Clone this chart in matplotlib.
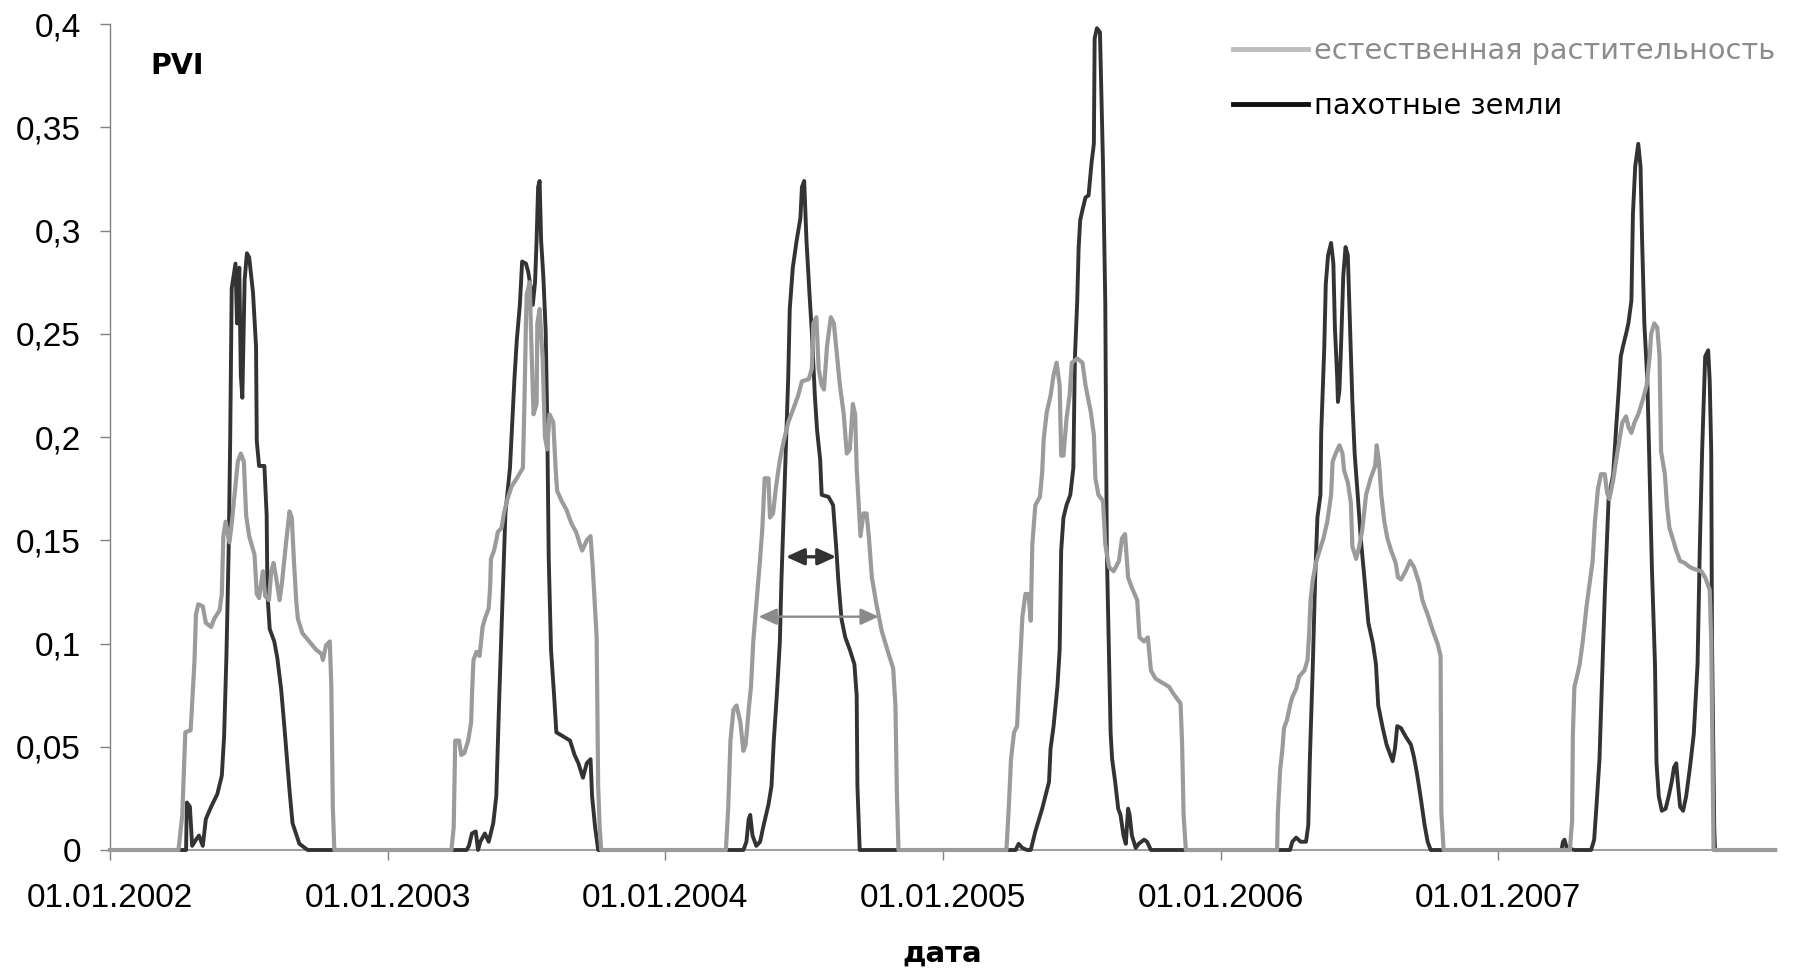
#!/usr/bin/env python3
"""
PVI seasonal curves 2002-2007: natural vegetation vs. arable land.
Values are read off the original figure (day of year, index value).
"""

from datetime import date

import matplotlib
matplotlib.use("Agg")
import matplotlib.pyplot as plt
import matplotlib.dates as mdates
from matplotlib.lines import Line2D

# ── natural vegetation (grey) ────────────────────────────────────────────
nat_2002_day = [90, 95, 99, 106, 111, 113, 116, 122, 126, 133, 137, 144, 147, 149, 152,
                157, 160, 165, 168, 172, 176, 179, 183, 190, 193, 196, 201, 204, 209, 212,
                215, 218, 223, 226, 231, 236, 239, 242, 245, 247, 253, 262, 271, 278, 280,
                284, 289, 291, 293, 295]
nat_2002_val = [0, 0.017, 0.057, 0.058, 0.091, 0.114, 0.119, 0.118, 0.110, 0.108, 0.112,
                0.116, 0.124, 0.152, 0.159, 0.149, 0.158, 0.177, 0.188, 0.192, 0.188, 0.162,
                0.152, 0.143, 0.124, 0.122, 0.135, 0.123, 0.121, 0.135, 0.139, 0.133, 0.121,
                0.129, 0.147, 0.164, 0.161, 0.139, 0.120, 0.112, 0.105, 0.101, 0.097, 0.095,
                0.092, 0.099, 0.101, 0.080, 0.021, 0]

nat_2003_day = [84, 87, 89, 94, 97, 101, 106, 110, 111, 113, 117, 121, 125, 128, 133, 135,
                136, 140, 143, 145, 150, 153, 157, 163, 170, 178, 180, 182, 183, 187, 189,
                192, 196, 197, 200, 204, 207, 210, 213, 218, 221, 223, 229, 235, 242, 248,
                254, 256, 262, 267, 270, 275, 277, 279, 281]
nat_2003_val = [0, 0.011, 0.053, 0.053, 0.046, 0.047, 0.053, 0.062, 0.075, 0.092, 0.096,
                0.094, 0.108, 0.112, 0.117, 0.128, 0.141, 0.145, 0.150, 0.154, 0.156, 0.163,
                0.169, 0.176, 0.180, 0.185, 0.216, 0.255, 0.269, 0.275, 0.247, 0.211, 0.216,
                0.255, 0.262, 0.238, 0.200, 0.194, 0.211, 0.207, 0.185, 0.174, 0.169, 0.165,
                0.158, 0.154, 0.147, 0.145, 0.150, 0.152, 0.136, 0.103, 0.031, 0.011, 0]

nat_2004_day = [80, 83, 86, 90, 94, 99, 103, 106, 110, 113, 116, 120, 125, 128, 131, 136,
                138, 142, 146, 151, 156, 162, 169, 175, 180, 189, 193, 195, 199, 202, 206,
                209, 213, 218, 222, 226, 230, 235, 239, 243, 247, 250, 252, 257, 261, 265,
                268, 272, 278, 285, 294, 300, 303, 305, 307]
nat_2004_val = [0, 0.020, 0.053, 0.068, 0.070, 0.062, 0.048, 0.051, 0.068, 0.079, 0.101,
                0.119, 0.141, 0.156, 0.180, 0.180, 0.161, 0.163, 0.176, 0.189, 0.198, 0.207,
                0.214, 0.220, 0.227, 0.228, 0.233, 0.255, 0.258, 0.233, 0.225, 0.223, 0.244,
                0.258, 0.255, 0.240, 0.225, 0.211, 0.192, 0.194, 0.216, 0.211, 0.185, 0.152,
                0.163, 0.163, 0.152, 0.132, 0.119, 0.106, 0.095, 0.088, 0.070, 0.026, 0]

nat_2005_day = [83, 86, 89, 93, 97, 100, 104, 108, 112, 115, 117, 121, 127, 130, 132, 136,
                141, 145, 149, 153, 155, 158, 162, 166, 169, 176, 183, 187, 194, 198, 200,
                204, 210, 213, 218, 224, 231, 235, 239, 243, 248, 255, 258, 264, 269, 273,
                279, 288, 297, 302, 308, 312, 314, 316, 319]
nat_2005_val = [0, 0.020, 0.044, 0.057, 0.060, 0.084, 0.113, 0.124, 0.124, 0.111, 0.148,
                0.167, 0.171, 0.183, 0.199, 0.212, 0.220, 0.230, 0.236, 0.225, 0.191, 0.191,
                0.209, 0.220, 0.236, 0.238, 0.236, 0.225, 0.212, 0.201, 0.180, 0.172, 0.169,
                0.148, 0.137, 0.135, 0.140, 0.151, 0.153, 0.132, 0.127, 0.121, 0.103, 0.101,
                0.103, 0.087, 0.083, 0.081, 0.079, 0.076, 0.073, 0.071, 0.052, 0.017, 0]

nat_2006_day = [74, 75, 78, 81, 83, 87, 91, 94, 99, 103, 110, 114, 116, 118, 121, 125, 129,
                135, 140, 145, 147, 151, 156, 160, 162, 167, 171, 173, 178, 182, 186, 191,
                197, 203, 205, 208, 211, 215, 219, 224, 230, 233, 237, 243, 249, 254, 261,
                265, 272, 279, 285, 289, 290, 293]
nat_2006_val = [0, 0.018, 0.039, 0.049, 0.059, 0.063, 0.070, 0.074, 0.078, 0.084, 0.087,
                0.092, 0.104, 0.121, 0.131, 0.139, 0.144, 0.151, 0.159, 0.172, 0.188, 0.192,
                0.196, 0.192, 0.184, 0.178, 0.168, 0.147, 0.141, 0.147, 0.155, 0.172, 0.180,
                0.186, 0.196, 0.188, 0.172, 0.159, 0.151, 0.145, 0.139, 0.132, 0.131, 0.135,
                0.140, 0.137, 0.129, 0.121, 0.114, 0.106, 0.100, 0.094, 0.018, 0]

nat_2007_day = [94, 97, 98, 100, 104, 107, 111, 116, 120, 124, 127, 131, 135, 140, 143, 146,
                151, 155, 159, 163, 168, 171, 175, 179, 184, 190, 195, 199, 201, 205, 209,
                212, 214, 219, 222, 225, 230, 234, 239, 245, 252, 258, 267, 272, 278, 280,
                282, 283]
nat_2007_val = [0, 0.014, 0.056, 0.079, 0.085, 0.090, 0.101, 0.118, 0.129, 0.140, 0.159,
                0.175, 0.182, 0.182, 0.173, 0.170, 0.179, 0.189, 0.198, 0.207, 0.210, 0.205,
                0.202, 0.207, 0.211, 0.218, 0.225, 0.239, 0.250, 0.255, 0.253, 0.239, 0.193,
                0.182, 0.166, 0.156, 0.150, 0.145, 0.140, 0.139, 0.137, 0.136, 0.135, 0.132,
                0.126, 0.101, 0.033, 0]

# ── arable land (dark) ───────────────────────────────────────────────────
ara_2002_day = [100, 101, 105, 108, 113, 117, 122, 126, 133, 141, 147, 150, 153, 156, 158,
                160, 165, 167, 170, 172, 174, 177, 180, 183, 188, 192, 193, 196, 203, 206,
                207, 210, 216, 220, 225, 229, 236, 240, 249, 260]
ara_2002_val = [0, 0.023, 0.021, 0.002, 0.005, 0.007, 0.002, 0.015, 0.021, 0.027, 0.036,
                0.055, 0.093, 0.145, 0.198, 0.272, 0.284, 0.255, 0.282, 0.230, 0.219, 0.276,
                0.289, 0.287, 0.270, 0.244, 0.198, 0.186, 0.186, 0.162, 0.124, 0.107, 0.101,
                0.093, 0.078, 0.061, 0.029, 0.013, 0.003, 0]

ara_2003_day = [104, 107, 111, 116, 119, 122, 128, 133, 139, 143, 147, 151, 155, 161, 167,
                170, 174, 177, 182, 185, 188, 191, 194, 196, 198, 200, 202, 205, 208, 210,
                212, 215, 219, 222, 231, 240, 246, 251, 257, 262, 267, 269, 273, 277]
ara_2003_val = [0, 0.002, 0.008, 0.009, 0, 0.004, 0.008, 0.004, 0.013, 0.026, 0.075, 0.119,
                0.163, 0.185, 0.229, 0.247, 0.264, 0.285, 0.284, 0.280, 0.273, 0.264, 0.275,
                0.295, 0.321, 0.324, 0.295, 0.277, 0.251, 0.207, 0.141, 0.097, 0.075, 0.057,
                0.055, 0.053, 0.046, 0.042, 0.035, 0.042, 0.044, 0.026, 0.011, 0]

ara_2004_day = [103, 107, 110, 112, 115, 120, 125, 129, 136, 140, 143, 147, 151, 153, 156,
                159, 162, 164, 168, 173, 178, 180, 183, 186, 190, 193, 195, 197, 200, 204,
                206, 215, 221, 225, 228, 232, 237, 243, 249, 252, 253, 256]
ara_2004_val = [0, 0.004, 0.015, 0.017, 0.007, 0.002, 0.004, 0.011, 0.022, 0.031, 0.053,
                0.075, 0.101, 0.130, 0.163, 0.196, 0.229, 0.262, 0.282, 0.295, 0.306, 0.321,
                0.324, 0.295, 0.269, 0.251, 0.236, 0.220, 0.203, 0.189, 0.172, 0.171, 0.167,
                0.147, 0.130, 0.112, 0.103, 0.097, 0.090, 0.075, 0.031, 0]

ara_2005_day = [95, 99, 104, 110, 115, 121, 130, 139, 141, 145, 150, 153, 155, 158, 162,
                167, 171, 173, 176, 178, 180, 183, 187, 191, 195, 198, 199, 202, 206, 208,
                210, 213, 215, 218, 220, 222, 226, 230, 233, 237, 240, 243, 245, 248, 253,
                257, 264, 268, 273]
ara_2005_val = [0, 0.003, 0.001, 0, 0, 0.009, 0.020, 0.033, 0.049, 0.060, 0.079, 0.097,
                0.145, 0.161, 0.167, 0.172, 0.185, 0.238, 0.265, 0.292, 0.305, 0.310, 0.316,
                0.317, 0.333, 0.342, 0.393, 0.398, 0.396, 0.364, 0.332, 0.265, 0.145, 0.092,
                0.057, 0.044, 0.033, 0.020, 0.017, 0.007, 0.003, 0.020, 0.017, 0.007, 0.001,
                0.003, 0.005, 0.004, 0]

ara_2006_day = [81, 91, 94, 99, 105, 112, 115, 117, 121, 124, 127, 131, 132, 134, 136, 138,
                141, 145, 148, 150, 153, 154, 156, 158, 161, 164, 167, 169, 171, 173, 176,
                180, 184, 189, 194, 200, 204, 207, 213, 218, 222, 226, 229, 232, 237, 243,
                250, 254, 258, 263, 268, 272, 276]
ara_2006_val = [0, 0, 0.004, 0.006, 0.004, 0.004, 0.012, 0.043, 0.090, 0.131, 0.161, 0.172,
                0.202, 0.223, 0.243, 0.274, 0.288, 0.294, 0.284, 0.253, 0.229, 0.217, 0.223,
                0.243, 0.278, 0.292, 0.288, 0.264, 0.239, 0.217, 0.192, 0.172, 0.151, 0.131,
                0.110, 0.100, 0.090, 0.070, 0.059, 0.051, 0.047, 0.043, 0.049, 0.060, 0.059,
                0.055, 0.051, 0.045, 0.037, 0.025, 0.012, 0.004, 0]

ara_2007_day = [83, 85, 87, 90, 100, 122, 126, 129, 133, 136, 140, 145, 151, 155, 158, 161,
                164, 168, 171, 175, 177, 180, 184, 187, 189, 192, 196, 199, 202, 206, 208,
                211, 215, 220, 224, 228, 231, 234, 236, 239, 243, 247, 252, 257, 262, 265,
                268, 271, 272, 276, 278, 280, 281, 284, 285]
ara_2007_val = [0, 0.004, 0.005, 0.001, 0, 0, 0.005, 0.021, 0.044, 0.079, 0.124, 0.170,
                0.182, 0.205, 0.221, 0.239, 0.244, 0.250, 0.255, 0.266, 0.308, 0.331, 0.342,
                0.331, 0.296, 0.255, 0.227, 0.182, 0.136, 0.090, 0.042, 0.026, 0.019, 0.020,
                0.026, 0.033, 0.040, 0.042, 0.033, 0.021, 0.019, 0.026, 0.040, 0.056, 0.090,
                0.147, 0.193, 0.227, 0.239, 0.242, 0.227, 0.193, 0.101, 0.010, 0]

# width-of-season arrows drawn in 2004 (day of year, index level)
arrow_ara_days, arrow_ara_level = [159, 225], 0.142
arrow_nat_days, arrow_nat_level = [123, 281], 0.113

years = [2002, 2003, 2004, 2005, 2006, 2007]
yticks = [0, 0.05, 0.1, 0.15, 0.2, 0.25, 0.3, 0.35, 0.4]
ytick_labels = ["0", "0,05", "0,1", "0,15", "0,2", "0,25", "0,3", "0,35", "0,4"]
LABEL_NAT = "естественная растительность"
LABEL_ARA = "пахотные земли"


def build(prefix):
    xs = [mdates.date2num(date(2002, 1, 1))]
    ys = [0.0]
    for y in years:
        days = globals()[f"{prefix}_{y}_day"]
        vals = globals()[f"{prefix}_{y}_val"]
        assert len(days) == len(vals), (prefix, y)
        base = mdates.date2num(date(y, 1, 1))
        xs += [base + d for d in days]
        ys += vals
    xs.append(mdates.date2num(date(2007, 12, 31)))
    ys.append(0.0)
    return xs, ys


def doy(year, d):
    return mdates.date2num(date(year, 1, 1)) + d


def main():
    fig = plt.figure(figsize=(18.13, 9.69), dpi=100)
    ax = fig.add_axes([0.0607, 0.1228, 0.9184, 0.8524])

    x_ara, y_ara = build("ara")
    x_nat, y_nat = build("nat")
    ax.plot(x_ara, y_ara, color="#333333", lw=2.8, clip_on=False,
            solid_joinstyle="round", zorder=3)
    ax.plot(x_nat, y_nat, color="#9b9b9b", lw=3.0, clip_on=False,
            solid_joinstyle="round", zorder=4)

    for days, lvl, c, lw in [(arrow_ara_days, arrow_ara_level, "#333333", 2.4),
                             (arrow_nat_days, arrow_nat_level, "#8a8a8a", 1.7)]:
        ax.annotate("", xy=(doy(2004, days[1]), lvl), xytext=(doy(2004, days[0]), lvl),
                    arrowprops=dict(arrowstyle="<|-|>,head_length=1.1,head_width=0.5",
                                    color=c, lw=lw, shrinkA=0, shrinkB=0,
                                    mutation_scale=10), zorder=5)

    ax.set_xlim(mdates.date2num(date(2002, 1, 1)), mdates.date2num(date(2007, 12, 31)))
    ax.set_ylim(0, 0.4)
    ax.set_xticks([mdates.date2num(date(y, 1, 1)) for y in years])
    ax.xaxis.set_major_formatter(mdates.DateFormatter("%d.%m.%Y"))
    ax.set_yticks(yticks)
    ax.set_yticklabels(ytick_labels)

    for side in ("top", "right"):
        ax.spines[side].set_visible(False)
    ax.spines["left"].set_color("#808080")
    ax.spines["left"].set_linewidth(1.0)
    ax.spines["bottom"].set_color("#a0a0a0")
    ax.spines["bottom"].set_linewidth(1.5)
    ax.tick_params(axis="both", direction="out", length=7, width=1.0, color="#808080",
                   labelsize=24, labelcolor="black")
    ax.tick_params(axis="y", pad=14)
    ax.tick_params(axis="x", pad=17)
    for lab in ax.get_xticklabels() + ax.get_yticklabels():
        lab.set_family("Liberation Sans")

    ax.set_xlabel("дата", fontsize=21, fontweight="bold", family="DejaVu Sans", labelpad=18)
    ax.text(0.0242, 0.949, "PVI", transform=ax.transAxes, fontsize=20.5,
            fontweight="bold", family="DejaVu Sans", va="center", ha="left")

    handles = [Line2D([], [], color="#bdbdbd", lw=3.5),
               Line2D([], [], color="#111111", lw=3.5)]
    leg = ax.legend(handles, [LABEL_NAT, LABEL_ARA], loc="upper right",
                    bbox_to_anchor=(1.0, 0.984), borderaxespad=0, borderpad=0,
                    frameon=False, handlelength=2.6, handletextpad=0.2,
                    labelspacing=0.92, prop={"family": "DejaVu Sans", "size": 20.7})
    leg.get_texts()[0].set_color("#8c8c8c")
    leg.get_texts()[1].set_color("black")

    fig.savefig("out.png", dpi=100)


if __name__ == "__main__":
    main()
